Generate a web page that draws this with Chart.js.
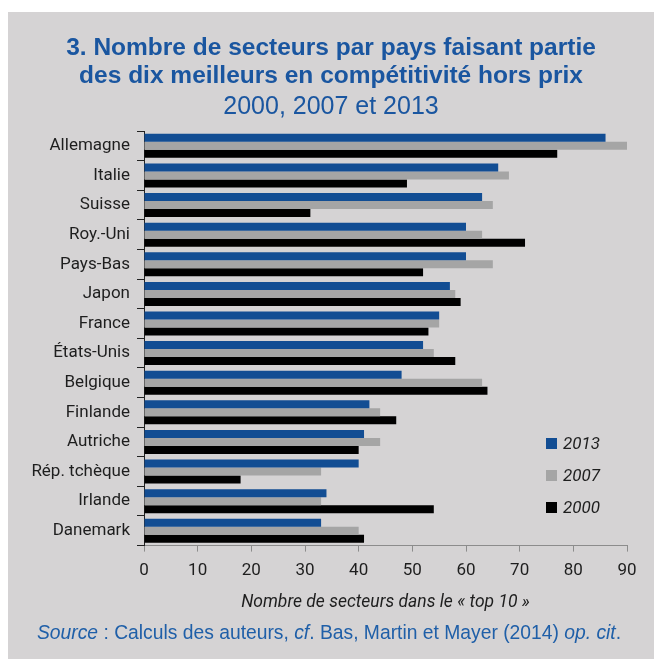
<!DOCTYPE html>
<html>
<head>
<meta charset="utf-8">
<script src="https://cdn.jsdelivr.net/npm/chart.js@4.4.1/dist/chart.umd.min.js"></script>
<style>
    body { margin: 0; background: #fff; width: 654px; height: 659px; overflow: hidden; font-family: Roboto, sans-serif; }
    #panel { position: absolute; left: 8px; top: 12px; width: 646px; height: 647px; background: #d5d3d4; }
    #chart { position: absolute; left: 0; top: 0; }
    #legend { position: absolute; left: 538px; top: 415px; }
    .item { display: flex; align-items: center; height: 32px; font-style: italic; font-size: 17px; color: #1e1e1e; }
    .sw { width: 11px; height: 11px; margin-right: 6px; }
    #source { position: absolute; left: 29px; top: 610px; font-family: 'Liberation Sans', sans-serif; font-size: 19.3px; line-height: 22px; color: #1f5fa8; white-space: nowrap; }
</style>
</head>
<body>
<div id="panel">
    <canvas id="chart" width="646" height="647"></canvas>
    <div id="legend"></div>
    <div id="source"><i>Source</i> : Calculs des auteurs, <i>cf</i>. Bas, Martin et Mayer (2014) <i>op. cit</i>.</div>
</div>
<script>
const pays = ['Allemagne', 'Italie', 'Suisse', 'Roy.-Uni', 'Pays-Bas', 'Japon', 'France', 'États-Unis', 'Belgique', 'Finlande', 'Autriche', 'Rép. tchèque', 'Irlande', 'Danemark'];
const annees = ['2013', '2007', '2000'];
const val2013 = [86, 66, 63, 60, 60, 57, 55, 52, 48, 42, 41, 40, 34, 33];
const val2007 = [90, 68, 65, 63, 65, 58, 55, 54, 63, 44, 44, 33, 33, 40];
const val2000 = [77, 49, 31, 71, 52, 59, 53, 58, 64, 47, 40, 18, 54, 41];
const couleurs = ['#124d93', '#a5a5a5', '#000000'];

const texte = '#1e1e1e';
const bleuTitre = '#1a56a0';
Chart.defaults.font.family = 'Roboto';

function initChart() {
    const ctx = document.getElementById('chart').getContext('2d');
    const series = [val2013, val2007, val2000];
    const data = {
        labels: pays,
        datasets: annees.map((a, i) => ({
            label: a,
            data: series[i],
            backgroundColor: couleurs[i],
            borderWidth: 0,
            barPercentage: 1,
            categoryPercentage: 0.81
        }))
    };

    new Chart(ctx, {
        type: 'bar',
        data,
        options: {
            indexAxis: 'y',
            responsive: false,
            animation: false,
            layout: { padding: { left: 0, right: 0, top: 0, bottom: 38.5 } },
            plugins: {
                legend: { display: false },
                tooltip: { enabled: false },
                title: {
                    display: true,
                    text: ['3. Nombre de secteurs par pays faisant partie', 'des dix meilleurs en compétitivité hors prix'],
                    color: bleuTitre,
                    font: { family: 'Liberation Sans', size: 24.5, weight: 'bold', lineHeight: 1.143 },
                    padding: { top: 22, bottom: 2.5 }
                },
                subtitle: {
                    display: true,
                    text: '2000, 2007 et 2013',
                    color: bleuTitre,
                    font: { family: 'Liberation Sans', size: 25, weight: 'normal', lineHeight: 1.2 },
                    padding: { top: 0, bottom: 8.5 }
                }
            },
            scales: {
                x: {
                    min: 0,
                    max: 90,
                    ticks: { stepSize: 10, color: texte, font: { size: 17 }, padding: 9 },
                    grid: { drawOnChartArea: false, tickLength: 6, color: '#8c8c8c' },
                    border: { color: '#8c8c8c' },
                    title: {
                        display: true,
                        text: 'Nombre de secteurs dans le « top 10 »',
                        color: texte,
                        font: { size: 17.5, style: 'italic' },
                        padding: { top: 2.5, bottom: 7 }
                    }
                },
                y: {
                    ticks: { color: texte, font: { size: 17 }, padding: 7 },
                    grid: { drawOnChartArea: false, offset: true, tickLength: 7, color: '#222' },
                    border: { color: '#222' },
                    afterFit: s => { s.width = 136; }
                },
                // marge droite vide, pour garder le titre centré sur tout le cadre
                marge: {
                    type: 'linear',
                    position: 'right',
                    ticks: { display: false },
                    grid: { display: false },
                    border: { display: false },
                    afterFit: s => { s.width = 27; }
                }
            }
        }
    });

    // légende à droite, dans la zone du graphique
    const leg = document.getElementById('legend');
    annees.forEach((a, i) => {
        const it = document.createElement('div');
        it.className = 'item';
        it.innerHTML = '<span class="sw" style="background:' + couleurs[i] + '"></span>' + a;
        leg.appendChild(it);
    });
}

initChart();
</script>
</body>
</html>
